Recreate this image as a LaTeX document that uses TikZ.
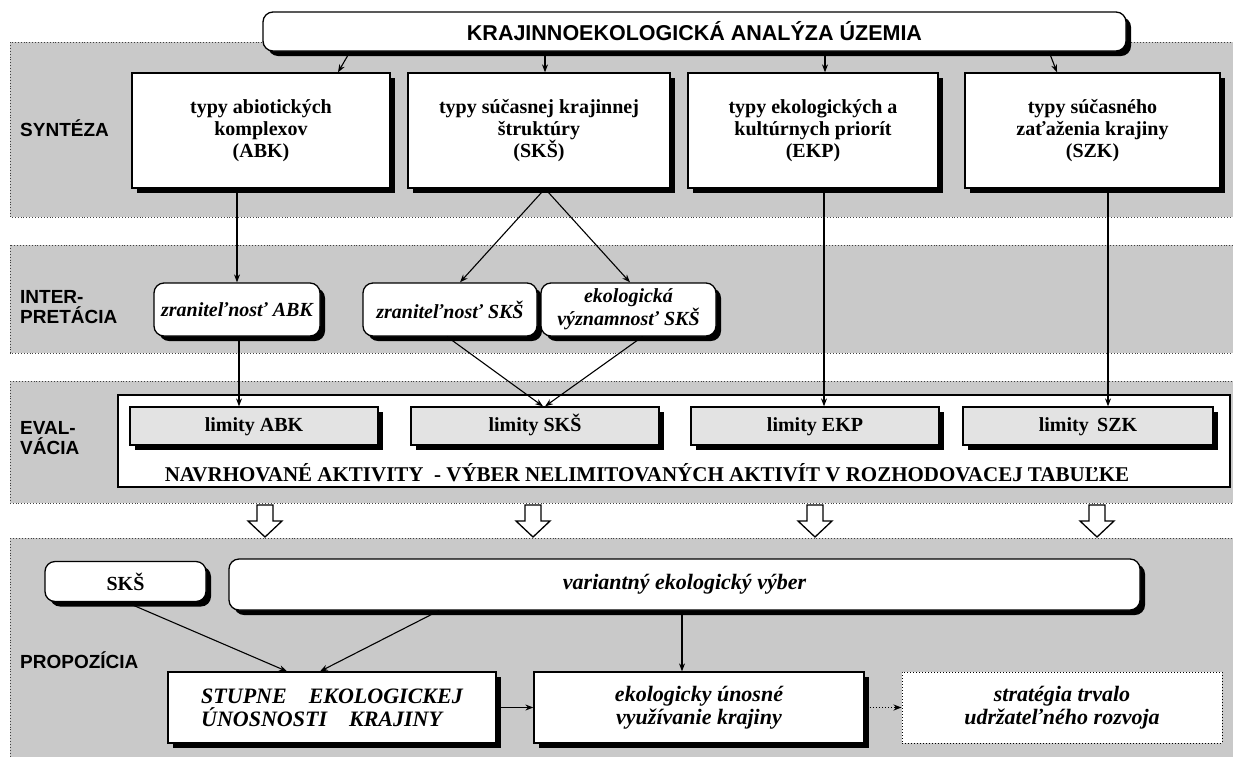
\documentclass[tikz,border=0pt]{standalone}
\usepackage{fontspec}
\setmainfont{Liberation Serif}
\setsansfont{Liberation Sans}
\usetikzlibrary{arrows.meta,shadows,calc}
\definecolor{bandgray}{gray}{0.79}
\definecolor{limgray}{gray}{0.89}
\begin{document}
\begin{tikzpicture}[x=1pt,y=-1pt,
  band/.style={fill=bandgray, draw=black!75, dotted, line width=0.9pt},
  lab/.style={font=\fontsize{19}{20}\selectfont\sffamily\bfseries, align=left, anchor=west, inner sep=0pt},
  shbox/.style={draw=black, line width=1.3pt, fill=white, align=center, inner sep=2pt,
    font=\fontsize{20}{22}\selectfont\bfseries,
    drop shadow={shadow xshift=5pt, shadow yshift=-5pt, fill=black, opacity=1}},
  rbox/.style={shbox, rounded corners=10pt},
  itbox/.style={rbox, font=\fontsize{20}{21}\selectfont\bfseries\itshape},
  botbox/.style={shbox, font=\fontsize{22}{23}\selectfont\bfseries\itshape},
  limbox/.style={shbox, fill=limgray, text height=14pt, text depth=4pt},
  arr/.style={line width=1.1pt, -{Stealth[length=8pt,width=6pt]}},
  hollow/.style={draw=black, line width=1.3pt, fill=white, line join=miter}
]
\useasboundingbox (0,0) rectangle (1233,756);
\fill[white] (0,0) rectangle (1233,756);

% bands
\path[band] (10,42) rectangle (1240,217);
\path[band] (10,245) rectangle (1240,353);
\path[band] (10,381) rectangle (1240,503);
\path[band] (10,538) rectangle (1240,760);

% band labels
\node[lab] (lsyn) at (20,128) {SYNTÉZA};
\node[lab] (lint) at (20,307) {INTER-\\PRETÁCIA};
\node[lab] (leva) at (20,438) {EVAL-\\VÁCIA};
\node[lab] (lpro) at (20,660) {PROPOZÍCIA};

% title
\node[rbox, font=\fontsize{21.5}{23}\selectfont\sffamily\bfseries, minimum width=863pt, minimum height=39pt] (title) at (694.5,31.5) {KRAJINNOEKOLOGICKÁ ANALÝZA ÚZEMIA};

% synthesis boxes
\node[shbox, minimum width=258pt, minimum height=115pt] (abk) at (261,130.5) {typy abiotických\\komplexov\\(ABK)};
\node[shbox, minimum width=262pt, minimum height=115pt] (sks) at (539,130.5) {typy súčasnej krajinnej\\štruktúry\\(SKŠ)};
\node[shbox, minimum width=250pt, minimum height=115pt] (ekp) at (813,130.5) {typy ekologických a\\kultúrnych priorít\\(EKP)};
\node[shbox, minimum width=255pt, minimum height=115pt] (szk) at (1092.5,130.5) {typy súčasného\\zaťaženia krajiny\\(SZK)};

% interpretation boxes
\node[itbox, minimum width=166pt, minimum height=53pt] (zabk) at (237,309.5) {zraniteľnosť ABK};
\node[itbox, minimum width=174pt, minimum height=53pt] (zsks) at (450,309.5) {zraniteľnosť SKŠ};
\node[itbox, minimum width=175pt, minimum height=53pt] (esks) at (628.5,309.5) {ekologická\\významnosť SKŠ};

% evaluation
\node[draw=black, line width=1.2pt, fill=white, minimum width=1112pt, minimum height=92pt] (eval) at (674,441) {};
\node[limbox, minimum width=248pt, minimum height=38pt] (labk) at (254,426) {limity ABK};
\node[limbox, minimum width=248pt, minimum height=38pt] (lsks) at (535,426) {limity SKŠ};
\node[limbox, minimum width=248pt, minimum height=38pt] (lekp) at (815,426) {limity EKP};
\node[limbox, minimum width=250pt, minimum height=38pt] (lszk) at (1088,426) {limity\, SZK};
\node[font=\fontsize{21}{22}\selectfont\bfseries, inner sep=0pt] (navrh) at (647,473) {NAVRHOVANÉ AKTIVITY\ \ - VÝBER NELIMITOVANÝCH AKTIVÍT V ROZHODOVACEJ TABUĽKE};

% proposition
\node[rbox, minimum width=161pt, minimum height=40pt] (sksb) at (125.5,581.5) {SKŠ};
\node[rbox, font=\fontsize{22}{23}\selectfont\bfseries\itshape, minimum width=911pt, minimum height=51pt] (var) at (684.5,584.5) {variantný ekologický výber};
\node[botbox, align=left, minimum width=328pt, minimum height=71pt] (stu) at (332,707.5) {STUPNE\hspace{1em}EKOLOGICKEJ\\ÚNOSNOSTI\hspace{1em}KRAJINY};
\node[botbox, minimum width=330pt, minimum height=71pt] (eko) at (699,707.5) {ekologicky únosné\\využívanie krajiny};
\node[draw=black, dotted, line width=1pt, fill=white, align=center, font=\fontsize{22}{23}\selectfont\bfseries\itshape, minimum width=320pt, minimum height=71pt] (str) at (1062,707.5) {stratégia trvalo\\udržateľného rozvoja};

% connectors: title -> synthesis
\draw[arr] ([xshift=-344.5pt]title.south) -- ([xshift=77pt]abk.north);
\draw[arr] ([xshift=-149.5pt]title.south) -- ([xshift=6pt]sks.north);
\draw[arr] ([xshift=130.5pt]title.south) -- ([xshift=12pt]ekp.north);
\draw[arr] ([xshift=354.5pt]title.south) -- ([xshift=-35.5pt]szk.north);

% synthesis -> interpretation
\draw[arr] (abk.south -| zabk.north) -- (zabk.north);
\draw[arr] ([xshift=6pt]sks.south) -- ([xshift=10pt]zsks.north);
\draw[arr] ([xshift=6pt]sks.south) -- ([xshift=1.5pt]esks.north);

% interpretation -> limits
\draw[arr] ([xshift=2pt]zabk.south) -- ([xshift=-15pt]labk.north);
\draw[arr] ([xshift=-3pt]zsks.south) -- ([xshift=8pt]lsks.north);
\draw[arr] ([xshift=14pt]esks.south) -- ([xshift=10pt]lsks.north);
\draw[arr] ([xshift=11pt]ekp.south) -- ([xshift=9pt]lekp.north);
\draw[arr] ([xshift=15.5pt]szk.south) -- ([xshift=20pt]lszk.north);

% hollow arrows
\foreach \xx/\nm in {265/ha, 533/hb, 815/hc, 1097/hd}{
  \coordinate (\nm) at (\xx,505);
  \draw[hollow] ($(\nm)+(-8,0)$) -- ($(\nm)+(8,0)$) -- ($(\nm)+(8,16)$) -- ($(\nm)+(17,16)$)
     -- ($(\nm)+(0,32)$) -- ($(\nm)+(-17,16)$) -- ($(\nm)+(-8,16)$) -- cycle;
}

% proposition connectors
\draw[arr] ([xshift=0.5pt]sksb.south) -- ([xshift=-45pt]stu.north);
\draw[arr] ([xshift=-245.5pt]var.south) -- ([xshift=-12pt]stu.north);
\draw[arr] ([xshift=-2.5pt]var.south) -- ([xshift=-17pt]eko.north);
\draw[arr] (stu.east) -- (eko.west);
\draw[line width=1.1pt, dotted, -{Stealth[length=8pt,width=6pt]}] ([xshift=5pt]eko.east) -- (str.west);
\end{tikzpicture}
\end{document}
